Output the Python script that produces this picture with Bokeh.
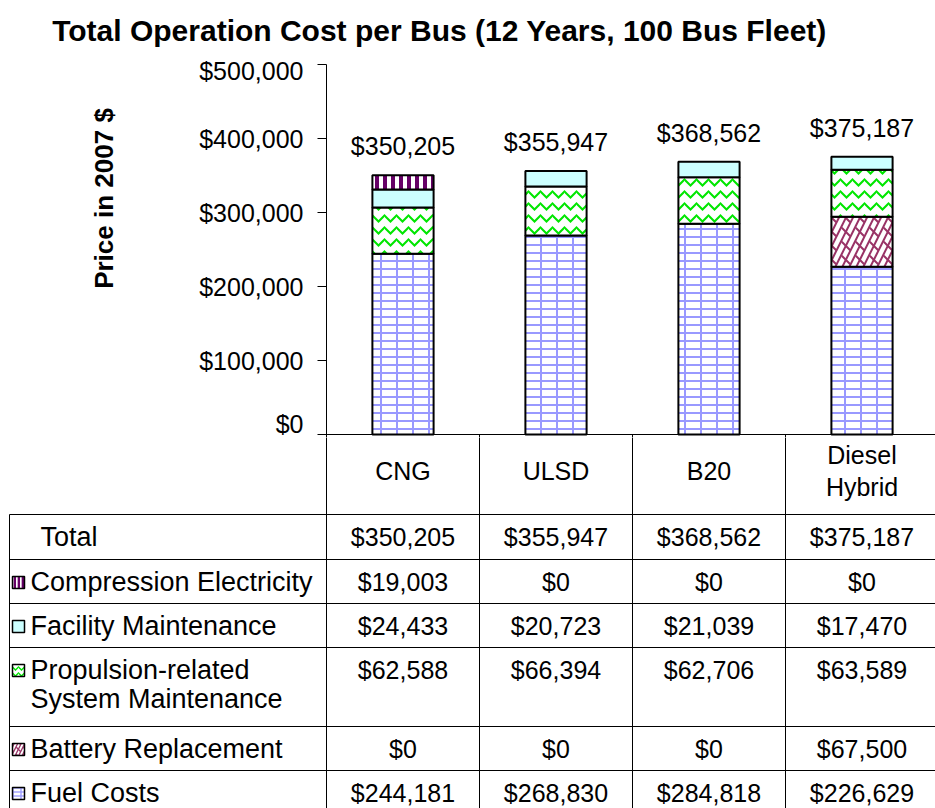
import math
from bokeh.plotting import figure
from bokeh.layouts import row
from bokeh.models import Range1d, NumeralTickFormatter, SingleIntervalTicker, ColumnDataSource
from bokeh.embed import file_html
from bokeh.resources import INLINE
from bokeh.core.properties import value

# ---------------- data ----------------
categories = ["CNG", "ULSD", "B20", "Diesel\nHybrid"]
fuel_costs = [244181, 268830, 284818, 226629]
battery_replacement = [0, 0, 0, 67500]
propulsion_maintenance = [62588, 66394, 62706, 63589]
facility_maintenance = [24433, 20723, 21039, 17470]
compression_electricity = [19003, 0, 0, 0]
totals = [350205, 355947, 368562, 375187]

series_labels = ["Fuel Costs", "Battery Replacement",
                 "Propulsion-related\nSystem Maintenance",
                 "Facility Maintenance", "Compression Electricity"]
series_values = [fuel_costs, battery_replacement, propulsion_maintenance,
                 facility_maintenance, compression_electricity]
total_label = "Total"
y_max = 500000
y_step = 100000
title_text = "Total Operation Cost per Bus (12 Years, 100 Bus Fleet)"
y_label_text = "Price in 2007 $"

# ---------------- styles ----------------
FONT_NAME = "Liberation Sans"
FONT = value(FONT_NAME)
FS = "25px"
LABEL_FS = "27px"
series_styles = [
    dict(fill="white", hatches=[("horizontal_line", "#9999FF", 8, 2), ("vertical_line", "#9999FF", 16, 2)]),
    dict(fill="white", hatches=[("right_diagonal_line", "#993366", 14, 2), ("left_diagonal_dash", "#993366", 14, 2)]),
    dict(fill="white", hatches=[("horizontal_wave", "#00E600", 12, 2)]),
    dict(fill="#CCFFFF", hatches=[]),
    dict(fill="white", hatches=[("vertical_line", "#660066", 8, 4)]),
]

# ---------------- layout (page pixels) ----------------
W = 935
PAGE_H = 808
TITLE_H = 56
YLAB_W = 180
AXIS_PX = 326        # y axis / first column edge
COL_W = 153.0        # width of one category column
TOP_PX = 64          # y of y_max
ZERO_PX = 434        # y of 0
CHART_BOTTOM = 437
LABEL_LEFT_PX = 9
BAR_W = 0.4

PX_PER_D = (ZERO_PX - TOP_PX) / y_max
x_end = (W - AXIS_PX) / COL_W
y_start = -(CHART_BOTTOM - ZERO_PX) / PX_PER_D

def xd(px):
    return (px - AXIS_PX) / COL_W

n = len(categories)
xs = [i + 0.5 for i in range(n)]

def bare(fig):
    fig.outline_line_color = None
    fig.grid.visible = False
    fig.background_fill_color = "white"
    fig.border_fill_color = "white"
    return fig

# ---------------- title strip ----------------
tf = bare(figure(width=W, height=TITLE_H, x_range=Range1d(0, W), y_range=Range1d(TITLE_H, 0),
                 output_backend="svg", toolbar_location=None, x_axis_location=None,
                 y_axis_location=None, min_border=0))
tf.text(x=[439], y=[30], text=[title_text], text_font=FONT, text_font_size="30px",
        text_font_style="bold", text_align="center", text_baseline="middle", text_color="black")

# ---------------- y label strip ----------------
CH = CHART_BOTTOM - TITLE_H
yf = bare(figure(width=YLAB_W, height=CH, x_range=Range1d(0, YLAB_W),
                 y_range=Range1d(CHART_BOTTOM, TOP_PX), output_backend="svg",
                 toolbar_location=None, x_axis_location=None, y_axis_location=None,
                 min_border=0, min_border_top=TOP_PX - TITLE_H))
yf.text(x=[103], y=[198], text=[y_label_text], angle=math.pi / 2, text_font=FONT,
        text_font_size="26px", text_font_style="bold", text_align="center",
        text_baseline="middle", text_color="black")

# ---------------- chart ----------------
p = bare(figure(width=W - YLAB_W, height=CH, x_range=Range1d(0, x_end),
                y_range=Range1d(y_start, y_max), output_backend="svg",
                toolbar_location=None, x_axis_location=None,
                min_border_left=AXIS_PX - YLAB_W, min_border_right=0,
                min_border_top=TOP_PX - TITLE_H, min_border_bottom=0))

ax = p.yaxis[0]
ax.ticker = SingleIntervalTicker(interval=y_step)
ax.formatter = NumeralTickFormatter(format="$0,0")
ax.bounds = (y_start, y_max)
ax.major_label_text_font = FONT_NAME
ax.major_label_text_font_size = FS
ax.major_label_text_color = "black"
ax.axis_line_color = "black"
ax.major_tick_line_color = "black"
ax.major_tick_out = 9
ax.major_tick_in = 0
ax.minor_tick_line_color = None
ax.major_label_standoff = 14

bottom = [0] * n
for vals, st in zip(series_values, series_styles):
    idx = [i for i in range(n) if vals[i] > 0]
    src = ColumnDataSource(dict(x=[xs[i] for i in idx],
                                b=[bottom[i] for i in idx],
                                t=[bottom[i] + vals[i] for i in idx]))
    p.vbar(x="x", bottom="b", top="t", width=BAR_W, source=src,
           fill_color=st["fill"], line_color=None)
    for pat, col, sc, wt in st["hatches"]:
        p.vbar(x="x", bottom="b", top="t", width=BAR_W, source=src,
               fill_color=None, line_color=None, hatch_pattern=pat,
               hatch_color=col, hatch_scale=sc, hatch_weight=wt)
    p.vbar(x="x", bottom="b", top="t", width=BAR_W, source=src,
           fill_color=None, line_color="black", line_width=2)
    bottom = [bottom[i] + vals[i] for i in range(n)]

p.text(x=xs, y=totals, text=[f"${v:,}" for v in totals], text_font=FONT,
       text_font_size=FS, text_align="center", text_baseline="middle",
       y_offset=-29, text_color="black")

# table top border and tops of column separators
p.segment(x0=[0], y0=[0], x1=[n], y1=[0], line_color="black", line_width=1)
p.segment(x0=list(range(1, n)), y0=[0] * (n - 1), x1=list(range(1, n)),
          y1=[y_start] * (n - 1), line_color="black", line_width=1)

# ---------------- table ----------------
TABLE_H = PAGE_H - CHART_BOTTOM
T_TOP = CHART_BOTTOM - ZERO_PX
LABEL_LEFT = xd(LABEL_LEFT_PX)
row_heights = [80, 45, 44, 44, 79, 44, 42]
row_tops = [0]
for h in row_heights:
    row_tops.append(row_tops[-1] + h)
table_bottom = row_tops[-1]

t = bare(figure(width=W, height=TABLE_H, x_range=Range1d(xd(0), x_end),
                y_range=Range1d(TABLE_H + T_TOP, T_TOP), output_backend="svg",
                toolbar_location=None, x_axis_location=None, y_axis_location=None,
                min_border=0))

hy = row_tops[1:-1]
t.segment(x0=[LABEL_LEFT] * len(hy), y0=hy, x1=[n] * len(hy), y1=hy,
          line_color="black", line_width=1)
vx = list(range(0, n + 1))
t.segment(x0=vx, y0=[0] * len(vx), x1=vx, y1=[table_bottom] * len(vx),
          line_color="black", line_width=1)
t.segment(x0=[LABEL_LEFT], y0=[row_tops[1]], x1=[LABEL_LEFT], y1=[table_bottom],
          line_color="black", line_width=1)

def put_text(xv, yc, s, align, size, x_offset=0, spacing=30, top_anchor=False):
    lines = s.split("\n")
    k0 = 0 if top_anchor else (len(lines) - 1) / 2
    t.text(x=[xv] * len(lines), y=[yc + (k - k0) * spacing for k in range(len(lines))],
           text=lines, text_font=FONT, text_font_size=size, text_align=align,
           text_baseline="middle", x_offset=x_offset, text_color="black")

# header row
for i, c in enumerate(categories):
    put_text(xs[i], 36, c, "center", FS, spacing=32)

# data rows (top to bottom)
table_rows = [(total_label, totals, None)] + [
    (series_labels[k], series_values[k], series_styles[k]) for k in range(len(series_labels) - 1, -1, -1)]
KEY = 12
for r, (lab, vals, st) in enumerate(table_rows):
    top = row_tops[r + 1]
    yc = top + 22
    for i in range(n):
        put_text(xs[i], yc, f"${vals[i]:,}", "center", FS)
    if st is None:
        put_text(LABEL_LEFT, yc, lab, "left", LABEL_FS, x_offset=31, spacing=29, top_anchor=True)
    else:
        put_text(LABEL_LEFT, yc, lab, "left", LABEL_FS, x_offset=21, spacing=29, top_anchor=True)
        kx = [xd(18)]
        ky = [yc + 1]
        t.rect(x=kx, y=ky, width=KEY, height=KEY, width_units="screen",
               height_units="screen", fill_color=st["fill"], line_color=None)
        for pat, col, sc, wt in st["hatches"]:
            t.rect(x=kx, y=ky, width=KEY, height=KEY, width_units="screen",
                   height_units="screen", fill_color=None, line_color=None,
                   hatch_pattern=pat, hatch_color=col, hatch_scale=max(4, sc / 2),
                   hatch_weight=max(1, wt / 1.5))
        t.rect(x=kx, y=ky, width=KEY, height=KEY, width_units="screen",
               height_units="screen", fill_color=None, line_color="black", line_width=1.5)

chart_row = row(yf, p, spacing=0)
open("out.html", "w").write(file_html([tf, chart_row, t], INLINE))
